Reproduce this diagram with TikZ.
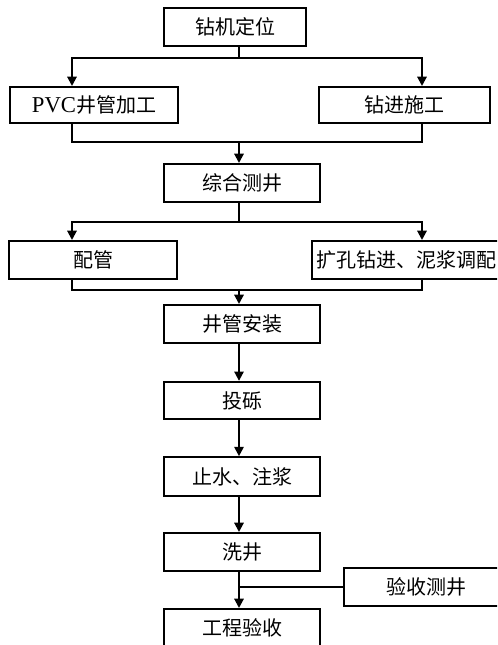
\documentclass[tikz,border=0pt]{standalone}
\usepackage{fontspec}
\setmainfont{Liberation Serif}
\newfontfamily\cjk{Noto Sans CJK SC}
\usetikzlibrary{arrows.meta}
\tikzset{
  box/.style={draw, line width=1.5pt, inner sep=0pt, font=\cjk\fontsize{15pt}{18pt}\selectfont},
  conn/.style={line width=1.5pt},
  arr/.style={conn, -{Triangle[width=7pt,length=7pt]}}
}
\begin{document}
\begin{tikzpicture}[x=0.75pt,y=-0.75pt]
\useasboundingbox (0,0) rectangle (497,645);
\fill[white] (0,0) rectangle (497,645);
\clip (0,0) rectangle (497,645);
% nodes
\node[box, minimum width=106.5pt, minimum height=28.5pt] (a) at (235,27) {钻机定位};
\node[box, minimum width=126pt, minimum height=27pt] (b) at (94,105) {{\rmfamily\fontsize{17pt}{18pt}\selectfont PVC}井管加工};
\node[box, minimum width=128pt, minimum height=27pt] (c) at (404.5,105) {钻进施工};
\node[box, minimum width=117pt, minimum height=28.5pt] (d) at (242,183) {综合测井};
\node[box, minimum width=126pt, minimum height=28.5pt] (e) at (93,260) {配管};
\node[box, minimum width=142.5pt, minimum height=28.5pt] (f) at (407,260) {};
\node[font=\cjk\fontsize{15pt}{18pt}\selectfont, anchor=west, inner sep=0pt] (ft) at (316,260) {扩孔钻进、泥浆调配};
\node[box, minimum width=117pt, minimum height=28.5pt] (g) at (242,324) {井管安装};
\node[box, minimum width=117pt, minimum height=28pt] (h) at (242,400.5) {投砾};
\node[box, minimum width=117pt, minimum height=29pt] (i) at (242,476.5) {止水、注浆};
\node[box, minimum width=117pt, minimum height=28.5pt] (j) at (242,552) {洗井};
\node[box, minimum width=123pt, minimum height=28.5pt] (k) at (426,587) {验收测井};
\node[box, minimum width=117pt, minimum height=28.5pt] (l) at (242,628) {工程验收};
% helper coordinates
\coordinate (sp) at (239,0);
\coordinate (bl) at (72,0);
\coordinate (br) at (422,0);
\coordinate (s1) at (239,58);
\coordinate (m1) at (239,142);
\coordinate (s2) at (239,222);
\coordinate (m2) at (239,290);
% connectors
\draw[conn] (a.south -| sp) -- (s1);
\draw[arr] (s1) -| (b.north -| bl);
\draw[arr] (s1) -| (c.north -| br);
\draw[conn] (b.south -| bl) |- (m1);
\draw[conn] (c.south -| br) |- (m1);
\draw[arr] (m1) -- (d.north -| sp);
\draw[conn] (d.south -| sp) -- (s2);
\draw[arr] (s2) -| (e.north -| bl);
\draw[arr] (s2) -| (f.north -| br);
\draw[conn] (e.south -| bl) |- (m2);
\draw[conn] (f.south -| br) |- (m2);
\draw[arr] (m2) -- (g.north -| sp);
\draw[arr] (g.south -| sp) -- (h.north -| sp);
\draw[arr] (h.south -| sp) -- (i.north -| sp);
\draw[arr] (i.south -| sp) -- (j.north -| sp);
\draw[arr] (j.south -| sp) -- (l.north -| sp);
\draw[conn] (k.west) -- (k.west -| sp);
\end{tikzpicture}
\end{document}
